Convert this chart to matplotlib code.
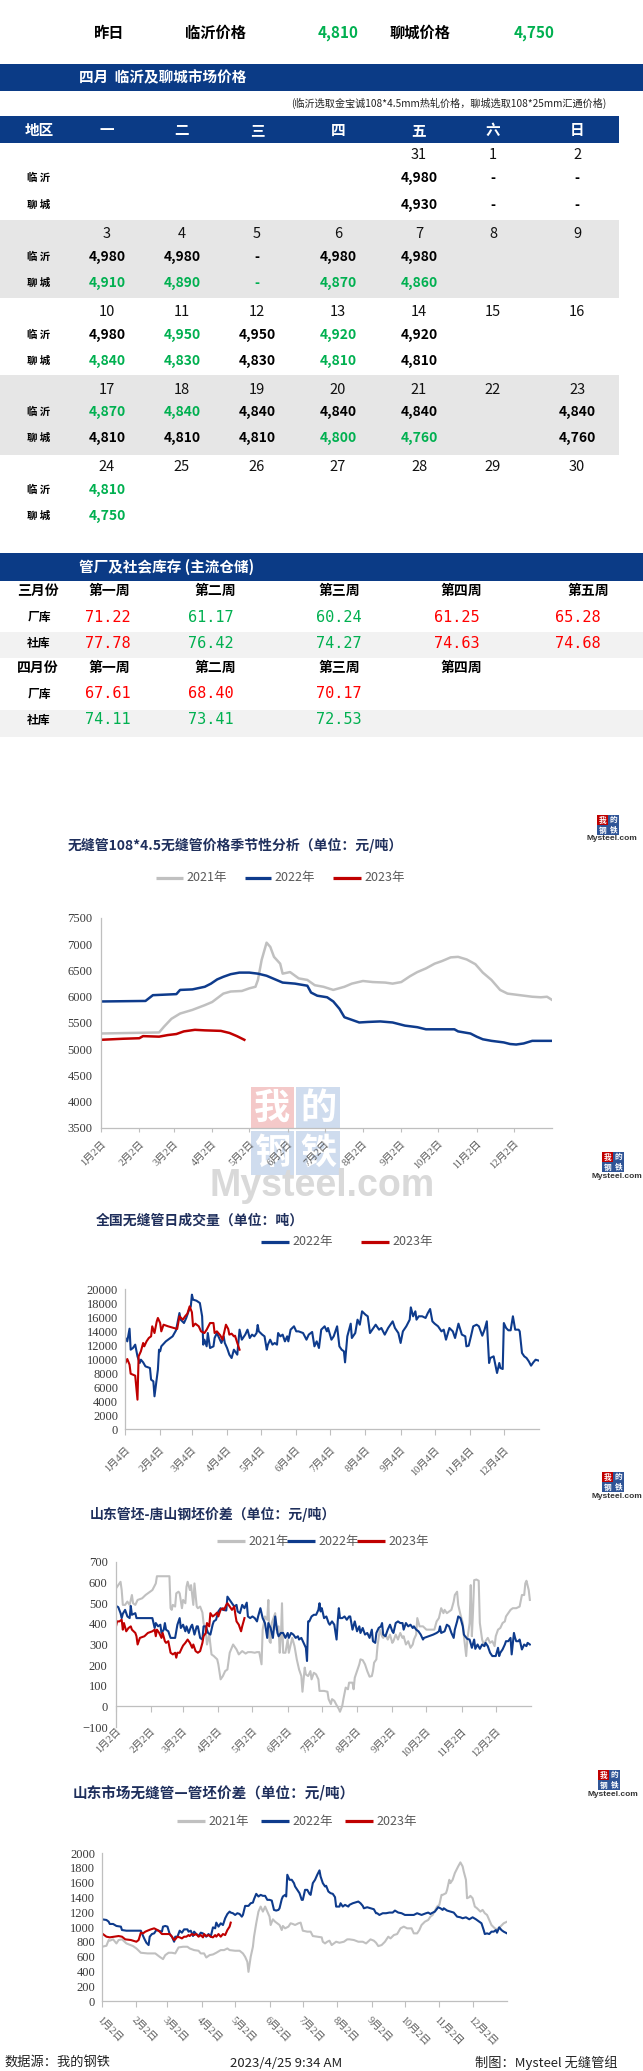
import matplotlib
matplotlib.use('Agg')
import matplotlib.pyplot as plt
from matplotlib.patches import Rectangle
from matplotlib.lines import Line2D

# ---------------- data ----------------
yest_labels = ['临沂价格', '聊城价格']
yest_prices = [4810, 4750]

week_days = ['一', '二', '三', '四', '五', '六', '日']
cal_dates = [
    [None, None, None, None, 31, 1, 2],
    [3, 4, 5, 6, 7, 8, 9],
    [10, 11, 12, 13, 14, 15, 16],
    [17, 18, 19, 20, 21, 22, 23],
    [24, 25, 26, 27, 28, 29, 30]]
linyi_price = [
    [None, None, None, None, 4980, '-', '-'],
    [4980, 4980, '-', 4980, 4980, None, None],
    [4980, 4950, 4950, 4920, 4920, None, None],
    [4870, 4840, 4840, 4840, 4840, None, 4840],
    [4810, None, None, None, None, None, None]]
linyi_down = [
    [0, 0, 0, 0, 0, 0, 0],
    [0, 0, 0, 0, 0, 0, 0],
    [0, 1, 0, 1, 0, 0, 0],
    [1, 1, 0, 0, 0, 0, 0],
    [1, 0, 0, 0, 0, 0, 0]]
liaocheng_price = [
    [None, None, None, None, 4930, '-', '-'],
    [4910, 4890, '-', 4870, 4860, None, None],
    [4840, 4830, 4830, 4810, 4810, None, None],
    [4810, 4810, 4810, 4800, 4760, None, 4760],
    [4750, None, None, None, None, None, None]]
liaocheng_down = [
    [0, 0, 0, 0, 0, 0, 0],
    [1, 1, 1, 1, 1, 0, 0],
    [1, 1, 0, 1, 0, 0, 0],
    [0, 0, 0, 1, 1, 0, 0],
    [1, 0, 0, 0, 0, 0, 0]]

inv_months = ['三月份', '四月份']
inv_weeks = [['第一周', '第二周', '第三周', '第四周', '第五周'],
             ['第一周', '第二周', '第三周', '第四周']]
march_factory = [71.22, 61.17, 60.24, 61.25, 65.28]
march_factory_up = [1, 0, 0, 1, 1]
march_social = [77.78, 76.42, 74.27, 74.63, 74.68]
march_social_up = [1, 0, 0, 1, 1]
april_factory = [67.61, 68.40, 70.17]
april_factory_up = [1, 1, 1]
april_social = [74.11, 73.41, 72.53]
april_social_up = [0, 0, 0]

month_ticks = [0, 31, 59, 90, 120, 151, 181, 212, 243, 273, 304, 334]
labels_2 = ['%d月2日' % m for m in range(1, 13)]
labels_4 = ['%d月4日' % m for m in range(1, 13)]

# chart 1: seamless pipe 108*4.5 price (yuan/t), x = day of year
p21_d = [0, 47, 51, 57, 64, 74, 84, 90, 99, 105, 114, 120, 125, 127, 130, 134, 137, 140, 145, 147,
         153, 160, 167, 173, 180, 188, 197, 203, 212, 220, 230, 236, 243, 250, 256, 263, 270, 276, 283, 289,
         296, 303, 309, 316, 323, 329, 339, 349, 356, 361, 365]
p21_v = [5300, 5320, 5430, 5580, 5680, 5750, 5840, 5900, 6060, 6100, 6110, 6160, 6190, 6320, 6700, 7030, 6950, 6760, 6630, 6440,
         6470, 6350, 6320, 6220, 6190, 6130, 6190, 6250, 6300, 6280, 6270, 6250, 6280, 6390, 6470, 6540, 6630, 6680, 6750, 6760,
         6710, 6620, 6460, 6320, 6130, 6060, 6030, 6000, 5990, 6000, 5940]
p22_d = [0, 36, 42, 61, 64, 74, 84, 89, 94, 99, 105, 112, 120, 127, 134, 140, 147, 157, 167, 170,
         175, 183, 188, 193, 197, 203, 209, 216, 226, 236, 246, 256, 263, 273, 286, 289, 299, 304, 309, 316,
         326, 331, 336, 342, 349, 365]
p22_v = [5910, 5920, 6030, 6050, 6130, 6140, 6190, 6250, 6330, 6380, 6430, 6460, 6460, 6440, 6400, 6340, 6270, 6250, 6210, 6080,
         6020, 5990, 5910, 5770, 5610, 5560, 5510, 5520, 5530, 5510, 5450, 5420, 5380, 5380, 5380, 5340, 5300, 5240, 5190, 5160,
         5130, 5100, 5090, 5110, 5160, 5160]
p23_d = [0, 18, 31, 34, 47, 54, 61, 67, 76, 84, 97, 104, 110, 116]
p23_v = [5180, 5200, 5210, 5250, 5240, 5270, 5290, 5340, 5370, 5360, 5350, 5310, 5250, 5180]

# chart 2: national daily deal volume (t)
v22_d = [0, 2, 4, 5, 7, 9, 11, 13, 14, 16, 18, 22, 23, 25, 26, 29, 30, 31, 32, 36,
         42, 45, 48, 49, 52, 54, 56, 58, 59, 60, 63, 66, 68, 69, 70, 72, 73, 75, 78, 79,
         81, 83, 85, 87, 88, 90, 92, 94, 96, 97, 99, 101, 103, 105, 106, 108, 110, 112, 114, 116,
         117, 118, 121, 123, 125, 126, 128, 130, 132, 134, 135, 137, 139, 141, 143, 144, 146, 149, 151, 153,
         157, 160, 162, 165, 167, 169, 171, 173, 176, 178, 179, 182, 184, 187, 189, 191, 193, 194, 196, 199,
         200, 203, 205, 207, 209, 212, 214, 216, 218, 221, 224, 226, 229, 232, 236, 238, 241, 243, 245, 248,
         251, 252, 254, 256, 257, 259, 262, 265, 267, 269, 271, 273, 276, 279, 281, 283, 286, 289, 291, 294,
         297, 300, 301, 303, 305, 307, 310, 312, 315, 317, 319, 321, 322, 325, 328, 330, 331, 333, 334, 336,
         338, 340, 342, 344, 347, 348, 350, 352, 354, 356, 358, 360, 362, 365]
v22_v = [13100, 12520, 14330, 11330, 11570, 12050, 10380, 9430, 9900, 9520, 8950, 8710, 7050, 6810, 4670, 8480, 11330, 11100, 11810, 12520,
         13240, 14100, 16570, 15620, 15140, 15860, 16810, 17520, 19190, 18480, 18330, 18000, 16100, 12050, 12760, 11810, 13710, 11570, 11810, 13000,
         13710, 13000, 12290, 13240, 12290, 11570, 10620, 10140, 11330, 11100, 10620, 14190, 12760, 13240, 13480, 14190, 13000, 13480, 13240, 13710,
         14860, 13950, 13480, 13240, 11330, 12050, 12760, 12050, 12290, 12050, 13710, 13240, 13480, 12520, 13240, 12520, 14190, 14670, 13950, 13950,
         13710, 12760, 13480, 13860, 11810, 12520, 11570, 14190, 14670, 13950, 14430, 12760, 13240, 14670, 11810, 11330, 11100, 9520, 13240, 15050,
         13000, 13710, 15620, 14900, 16810, 16330, 16100, 13710, 14190, 14900, 14190, 14430, 13480, 14430, 15380, 14430, 13710, 12290, 13950, 14670,
         15620, 17380, 16100, 16810, 15620, 16100, 16100, 15860, 16570, 17140, 15380, 15050, 14670, 13950, 14190, 12760, 14430, 13950, 13000, 15050,
         13480, 13240, 11810, 11900, 13240, 14670, 14900, 14670, 13330, 14190, 15380, 9430, 10140, 10380, 8000, 9430, 8710, 8570, 15140, 14430,
         14100, 14100, 16100, 14190, 14190, 13950, 10860, 10380, 10140, 9670, 9050, 9520, 9900, 9760]
v23_d = [0, 2, 4, 5, 7, 9, 11, 12, 14, 16, 17, 19, 21, 23, 24, 26, 28, 29, 31, 32,
         34, 38, 46, 48, 51, 53, 55, 57, 59, 60, 62, 65, 67, 70, 72, 75, 78, 79, 81, 84,
         86, 88, 89, 91, 92, 94, 96, 97, 99, 101]
v23_v = [9290, 10000, 9190, 7900, 7760, 7620, 4190, 10380, 11100, 12290, 11810, 12520, 13000, 13240, 14670, 13710, 15380, 15860, 15140, 13950,
         14900, 14670, 14290, 16100, 15620, 16100, 16480, 17520, 16670, 14670, 15050, 14670, 13950, 13710, 14190, 15140, 15140, 13710, 13950, 13380,
         12760, 14190, 14900, 14290, 13480, 13620, 13240, 13330, 12290, 11330]

# chart 3: Shandong tube billet - Tangshan billet spread (yuan/t)
s21_d = [0, 2, 4, 5, 6, 8, 10, 12, 14, 15, 17, 19, 23, 26, 30, 32, 35, 36, 41, 47,
         48, 49, 50, 52, 53, 55, 56, 58, 59, 61, 62, 63, 65, 66, 68, 69, 71, 72, 74, 76,
         77, 79, 80, 82, 84, 86, 89, 90, 92, 94, 96, 98, 100, 103, 106, 108, 111, 114, 116, 119,
         122, 124, 126, 128, 129, 131, 133, 134, 135, 136, 137, 139, 140, 141, 143, 144, 145, 146, 147, 149,
         151, 152, 155, 157, 159, 161, 163, 164, 166, 167, 169, 171, 172, 174, 176, 178, 179, 183, 186, 187,
         189, 190, 192, 194, 196, 197, 199, 200, 202, 204, 205, 208, 209, 210, 212, 214, 215, 217, 219, 221,
         223, 225, 226, 227, 229, 230, 232, 234, 235, 237, 239, 241, 243, 244, 246, 248, 250, 252, 253, 255,
         257, 259, 261, 262, 264, 265, 267, 270, 273, 277, 280, 282, 284, 286, 288, 289, 291, 293, 295, 297,
         298, 300, 301, 303, 305, 306, 308, 309, 311, 312, 313, 314, 315, 317, 319, 320, 322, 324, 325, 327,
         329, 331, 333, 334, 336, 338, 340, 342, 343, 345, 347, 349, 352, 355, 357, 359, 360, 361, 363, 364]
s21_v = [572, 588, 604, 564, 492, 492, 508, 492, 540, 500, 492, 516, 524, 540, 556, 564, 596, 631, 631, 631,
         476, 468, 492, 484, 548, 556, 548, 476, 516, 500, 580, 604, 564, 588, 492, 596, 484, 476, 484, 455,
         404, 364, 300, 348, 252, 244, 228, 204, 131, 147, 171, 179, 260, 300, 276, 252, 268, 256, 263, 263,
         260, 263, 263, 204, 372, 436, 420, 516, 316, 308, 404, 436, 452, 372, 388, 260, 332, 500, 260, 260,
         324, 260, 332, 292, 228, 179, 147, 71, 188, 155, 147, 171, 131, 163, 155, 131, 75, 75, 71, 35,
         11, 35, 27, 6, -13, -26, 3, 35, 91, 83, 115, 115, 83, 139, 171, 204, 228, 224, 204, 171,
         144, 147, 171, 212, 228, 292, 372, 340, 332, 348, 324, 348, 308, 316, 348, 324, 356, 332, 340, 300,
         316, 284, 300, 324, 348, 428, 388, 388, 372, 372, 372, 412, 428, 476, 452, 468, 452, 460, 468, 508,
         540, 556, 492, 444, 404, 340, 244, 324, 404, 588, 340, 460, 612, 615, 609, 404, 324, 292, 316, 332,
         308, 316, 292, 340, 372, 380, 404, 412, 436, 452, 468, 476, 476, 484, 540, 540, 596, 609, 564, 516]
s22_d = [0, 2, 4, 5, 6, 8, 10, 12, 13, 14, 17, 18, 21, 25, 28, 32, 34, 35, 37, 39,
         40, 42, 43, 44, 46, 48, 52, 53, 54, 56, 57, 59, 61, 62, 64, 66, 67, 69, 71, 72,
         74, 76, 77, 79, 81, 83, 85, 86, 88, 90, 92, 94, 97, 98, 100, 102, 104, 106, 107, 109,
         111, 113, 115, 116, 118, 120, 122, 124, 125, 127, 129, 131, 133, 134, 136, 138, 140, 142, 143, 145,
         147, 149, 151, 152, 154, 156, 158, 160, 161, 163, 165, 167, 168, 169, 170, 172, 174, 176, 178, 179,
         180, 181, 183, 185, 187, 188, 190, 192, 194, 195, 196, 197, 199, 201, 203, 205, 206, 208, 210, 212,
         214, 215, 217, 219, 221, 223, 225, 226, 228, 229, 231, 233, 234, 235, 237, 239, 241, 243, 244, 246,
         248, 250, 252, 253, 255, 257, 259, 261, 262, 264, 266, 268, 270, 271, 275, 279, 282, 284, 285, 286,
         289, 291, 293, 295, 297, 298, 300, 301, 303, 305, 306, 307, 309, 311, 313, 315, 316, 318, 320, 322,
         324, 325, 327, 329, 331, 334, 336, 337, 338, 340, 342, 343, 345, 347, 348, 350, 351, 352, 354, 355,
         357, 359, 361, 362, 364]
s22_v = [487, 481, 452, 428, 449, 468, 436, 428, 487, 444, 452, 428, 428, 428, 428, 428, 380, 404, 388, 396,
         356, 372, 404, 372, 364, 332, 332, 364, 396, 428, 380, 396, 364, 388, 356, 388, 396, 348, 388, 388,
         332, 324, 388, 388, 356, 348, 396, 412, 420, 460, 476, 468, 465, 532, 516, 500, 484, 492, 460, 452,
         492, 476, 503, 436, 428, 436, 428, 412, 436, 476, 428, 404, 332, 404, 380, 332, 436, 356, 340, 356,
         356, 332, 356, 332, 356, 348, 332, 340, 324, 332, 308, 284, 220, 412, 412, 436, 444, 444, 468, 500,
         460, 476, 428, 436, 404, 396, 412, 396, 324, 412, 476, 428, 428, 436, 420, 436, 436, 372, 412, 364,
         388, 356, 380, 348, 356, 332, 372, 316, 308, 356, 380, 388, 404, 348, 340, 372, 396, 364, 356, 404,
         412, 404, 404, 372, 404, 388, 396, 380, 388, 372, 364, 348, 324, 332, 340, 348, 356, 364, 388, 356,
         364, 396, 388, 356, 332, 372, 412, 436, 428, 388, 348, 340, 327, 324, 284, 324, 279, 300, 279, 300,
         292, 308, 292, 260, 244, 244, 284, 244, 260, 276, 300, 316, 316, 332, 252, 356, 332, 316, 316, 324,
         276, 300, 292, 308, 300]
s23_d = [0, 1, 3, 5, 6, 7, 9, 11, 13, 14, 17, 18, 19, 21, 25, 28, 32, 34, 35, 36,
         38, 40, 41, 43, 44, 46, 48, 50, 52, 53, 54, 56, 58, 59, 61, 63, 65, 67, 68, 70,
         72, 74, 76, 77, 79, 80, 82, 83, 85, 87, 89, 90, 92, 94, 95, 97, 98, 100, 102, 104,
         105, 106, 108, 110, 111, 113]
s23_v = [388, 412, 412, 420, 372, 404, 364, 380, 388, 372, 356, 340, 300, 332, 340, 356, 364, 372, 340, 372,
         356, 332, 356, 316, 308, 316, 260, 252, 260, 236, 260, 260, 284, 295, 308, 324, 308, 284, 300, 268,
         260, 268, 308, 340, 356, 404, 388, 452, 436, 444, 455, 436, 468, 476, 468, 492, 500, 484, 468, 484,
         444, 412, 396, 364, 388, 428]

# chart 4: Shandong seamless pipe - tube billet spread (yuan/t)
m21_d = [0, 4, 6, 7, 10, 13, 15, 18, 22, 28, 31, 35, 41, 48, 52, 55, 57, 60, 63, 66,
         69, 73, 77, 79, 83, 87, 89, 92, 94, 97, 100, 103, 107, 110, 113, 115, 120, 124, 127, 129,
         131, 132, 134, 136, 137, 139, 141, 143, 145, 147, 149, 151, 152, 154, 156, 158, 160, 162, 163, 165,
         168, 170, 172, 174, 177, 179, 181, 185, 188, 190, 194, 198, 199, 201, 203, 205, 207, 209, 211, 214,
         218, 221, 223, 227, 231, 235, 238, 242, 245, 247, 249, 252, 255, 258, 260, 263, 266, 269, 272, 275,
         279, 281, 284, 286, 288, 291, 294, 296, 298, 302, 304, 306, 307, 310, 311, 313, 314, 316, 318, 321,
         323, 325, 326, 328, 329, 331, 332, 334, 336, 338, 341, 343, 345, 347, 349, 351, 354, 356, 359, 362,
         365]
m21_v = [733, 747, 824, 815, 833, 778, 824, 833, 778, 742, 710, 652, 643, 643, 597, 566, 620, 652, 652, 643,
         724, 733, 733, 710, 688, 679, 643, 643, 588, 620, 629, 652, 688, 688, 710, 688, 679, 679, 643, 597,
         529, 394, 597, 733, 869, 1050, 1208, 1276, 1208, 1276, 1208, 1140, 1027, 1104, 1072, 1050, 1027, 959, 1014, 982,
         1005, 1050, 1041, 1027, 1050, 1059, 950, 937, 937, 878, 869, 860, 801, 778, 801, 815, 756, 778, 801, 787,
         801, 833, 833, 824, 801, 801, 778, 833, 815, 787, 742, 756, 801, 869, 846, 891, 905, 982, 1005, 982,
         982, 914, 914, 959, 1027, 1072, 1095, 1140, 1163, 1276, 1299, 1434, 1434, 1457, 1502, 1638, 1593, 1638, 1729, 1819,
         1873, 1819, 1751, 1638, 1389, 1403, 1421, 1389, 1276, 1253, 1208, 1231, 1186, 1163, 1095, 1027, 982, 968, 1005, 1050,
         1072]
m22_d = [0, 4, 6, 7, 10, 13, 17, 18, 22, 30, 35, 36, 38, 40, 42, 43, 45, 47, 49, 51,
         54, 55, 57, 59, 61, 63, 65, 66, 68, 70, 72, 74, 77, 78, 80, 82, 83, 85, 87, 89,
         91, 92, 94, 96, 98, 100, 102, 103, 105, 107, 109, 111, 113, 115, 116, 118, 120, 122, 124, 126,
         127, 129, 132, 134, 136, 137, 139, 141, 143, 145, 147, 149, 151, 153, 155, 157, 159, 160, 162, 163,
         165, 166, 167, 169, 171, 173, 174, 176, 178, 180, 181, 183, 185, 187, 188, 190, 192, 194, 196, 197,
         199, 201, 202, 204, 206, 208, 210, 211, 214, 215, 217, 219, 222, 223, 226, 228, 231, 233, 235, 236,
         239, 242, 245, 247, 248, 250, 253, 256, 259, 262, 264, 267, 270, 273, 277, 281, 284, 288, 292, 294,
         296, 297, 300, 303, 305, 307, 308, 311, 314, 317, 320, 323, 325, 328, 331, 334, 337, 340, 342, 344,
         345, 347, 349, 351, 353, 355, 356, 358, 360, 362, 365]
m22_v = [1104, 1095, 1072, 1041, 1041, 1014, 1005, 959, 950, 950, 950, 914, 846, 787, 756, 869, 905, 914, 959, 950,
         937, 1005, 1014, 1005, 905, 869, 801, 869, 869, 950, 923, 968, 968, 937, 950, 878, 937, 905, 878, 923,
         914, 891, 869, 905, 869, 995, 982, 1059, 1005, 1050, 1027, 1118, 1176, 1208, 1195, 1186, 1163, 1186, 1176, 1140,
         1163, 1285, 1285, 1321, 1330, 1376, 1448, 1412, 1434, 1421, 1421, 1367, 1367, 1357, 1231, 1222, 1231, 1253, 1376, 1412,
         1434, 1412, 1706, 1638, 1638, 1593, 1548, 1502, 1457, 1367, 1367, 1502, 1502, 1448, 1434, 1593, 1638, 1706, 1765, 1683,
         1593, 1548, 1557, 1480, 1457, 1448, 1403, 1276, 1276, 1321, 1276, 1299, 1276, 1299, 1321, 1330, 1344, 1321, 1285, 1253,
         1267, 1253, 1240, 1186, 1186, 1163, 1186, 1186, 1195, 1195, 1222, 1195, 1186, 1163, 1163, 1163, 1186, 1163, 1186, 1195,
         1176, 1186, 1208, 1267, 1253, 1231, 1253, 1222, 1208, 1195, 1140, 1131, 1118, 1131, 1104, 1131, 1104, 1072, 1050, 959,
         905, 914, 905, 937, 937, 959, 923, 995, 959, 937, 914]
m23_d = [0, 2, 4, 7, 11, 15, 18, 21, 26, 31, 33, 35, 37, 39, 41, 44, 47, 50, 52, 54,
         55, 58, 61, 63, 65, 66, 68, 70, 72, 74, 76, 78, 79, 81, 83, 85, 87, 89, 91, 92,
         94, 96, 98, 100, 102, 103, 105, 107, 109, 111, 113, 115, 116]
m23_v = [914, 891, 869, 860, 869, 878, 869, 833, 824, 801, 824, 923, 914, 937, 950, 968, 982, 959, 937, 905,
         905, 905, 905, 869, 824, 833, 869, 860, 846, 869, 869, 891, 878, 905, 891, 905, 869, 891, 860, 905,
         878, 891, 869, 860, 891, 869, 905, 869, 905, 891, 959, 1005, 1059]

# ---------------- style ----------------
W, H = 643, 2071
plt.rcParams['font.family'] = ['Noto Sans CJK SC', 'DejaVu Sans']
SERIF = ['Liberation Serif', 'Noto Sans CJK SC']
MONO = ['DejaVu Sans Mono']
NAVY = '#0b3b86'
GREEN = '#00b050'
RED = '#ff0000'
BLACK = '#000000'
C21, C22, C23 = '#c0c0c0', '#0e3b8c', '#c00000'
TITLE_C = '#1f2f5c'

fig = plt.figure(figsize=(W / 100, H / 100), dpi=100)


def fx(x):
    return x / W


def fy(y):
    return 1 - y / H


def text(x, y, s, **kw):
    kw.setdefault('ha', 'center')
    kw.setdefault('va', 'center')
    return fig.text(fx(x), fy(y), s, **kw)


def rect(x0, y0, x1, y1, color, z=-5, alpha=1.0):
    fig.add_artist(Rectangle((fx(x0), fy(y1)), (x1 - x0) / W, (y1 - y0) / H,
                             transform=fig.transFigure, facecolor=color,
                             edgecolor='none', zorder=z, alpha=alpha))


def hline(x0, x1, y, color, lw):
    fig.add_artist(Line2D([fx(x0), fx(x1)], [fy(y), fy(y)], transform=fig.transFigure,
                          color=color, lw=lw, solid_capstyle='butt'))


# ---------------- top line ----------------
text(109, 33, '昨日', fontsize=11, fontweight='bold')
text(216, 33, yest_labels[0], fontsize=11, fontweight='bold')
text(338, 33, f'{yest_prices[0]:,}', fontsize=11, fontweight='bold', color=GREEN)
text(420, 33, yest_labels[1], fontsize=11, fontweight='bold')
text(534, 33, f'{yest_prices[1]:,}', fontsize=11, fontweight='bold', color=GREEN)

# ---------------- calendar ----------------
rect(0, 64, 643, 91, NAVY)
text(79, 77.5, '四月  临沂及聊城市场价格', ha='left', fontsize=10.5, fontweight='bold', color='white')
text(606, 103, '(临沂选取金宝诚108*4.5mm热轧价格，聊城选取108*25mm汇通价格)', ha='right',
     fontsize=7.3, color='#222222')
rect(0, 116, 619, 143, NAVY)
col_x = [107, 182, 257, 338, 419, 493, 577]
text(39, 130, '地区', fontsize=10.5, fontweight='bold', color='white')
for cx, wd in zip(col_x, week_days):
    text(cx, 130, wd, fontsize=10.5, fontweight='bold', color='white')

date_y = [155, 234, 312, 390, 467]
linyi_y = [178, 257, 335, 412, 490]
liao_y = [205, 283, 361, 438, 516]
for band in [(220, 298), (375, 455)]:
    rect(0, band[0], 619, band[1], '#e6e6e6')


def fmt(v):
    return v if isinstance(v, str) else f'{v:,}'


for wi in range(len(cal_dates)):
    text(39, linyi_y[wi], '临 沂', fontsize=7.5, fontweight='bold')
    text(39, liao_y[wi], '聊 城', fontsize=7.5, fontweight='bold')
    for ci in range(7):
        d = cal_dates[wi][ci]
        if d is not None:
            text(col_x[ci], date_y[wi], str(d), fontsize=10.5, color='#111111')
        lv = linyi_price[wi][ci]
        if lv is not None:
            text(col_x[ci], linyi_y[wi], fmt(lv), fontsize=10, fontweight='bold',
                 color=GREEN if linyi_down[wi][ci] else BLACK)
        cv = liaocheng_price[wi][ci]
        if cv is not None:
            text(col_x[ci], liao_y[wi], fmt(cv), fontsize=10, fontweight='bold',
                 color=GREEN if liaocheng_down[wi][ci] else BLACK)

# ---------------- inventory ----------------
rect(0, 553, 643, 581, NAVY)
text(79, 567, '管厂及社会库存 (主流仓储)', ha='left', fontsize=10.5, fontweight='bold', color='white')
rect(0, 632, 643, 658, '#f2f2f2')
rect(0, 710, 643, 737, '#f2f2f2')
wk_x = [109, 215, 339, 461, 588]
val_x = [108, 211, 339, 457, 578]
month_y = [591, 668]
fac_y = [617, 694]
soc_y = [643, 720]
fac_vals = [march_factory, april_factory]
fac_up = [march_factory_up, april_factory_up]
soc_vals = [march_social, april_social]
soc_up = [march_social_up, april_social_up]
for mi in range(2):
    text(38, month_y[mi], inv_months[mi], fontsize=10, fontweight='bold')
    for wi, wk in enumerate(inv_weeks[mi]):
        text(wk_x[wi], month_y[mi], wk, fontsize=10, fontweight='bold')
    text(39, fac_y[mi], '厂库', fontsize=8.5, fontweight='bold')
    text(39, soc_y[mi], '社库', fontsize=8.5, fontweight='bold')
    for wi, v in enumerate(fac_vals[mi]):
        text(val_x[wi], fac_y[mi], f'{v:.2f}', fontsize=11, family=MONO,
             color=RED if fac_up[mi][wi] else GREEN)
    for wi, v in enumerate(soc_vals[mi]):
        text(val_x[wi], soc_y[mi], f'{v:.2f}', fontsize=11, family=MONO,
             color=RED if soc_up[mi][wi] else GREEN)

# ---------------- watermark & logos ----------------
rect(251, 1087, 294, 1129, '#f4c9c9', z=-4)
rect(296, 1087, 340, 1129, '#cfdcee', z=-4)
rect(251, 1131, 294, 1175, '#cfdcee', z=-4)
rect(296, 1131, 340, 1175, '#cfdcee', z=-4)
for (cx, cy, ch) in [(272, 1108, '我'), (318, 1108, '的'), (272, 1153, '钢'), (318, 1153, '铁')]:
    t = text(cx, cy, ch, fontsize=26, fontweight='bold', color='white')
    t.set_zorder(-3)
t = text(322, 1186, 'Mysteel.com', fontsize=27, fontweight='bold', color='#d9d9d9',
         family=['Liberation Sans', 'DejaVu Sans'])
t.set_zorder(-3)

logo_pos = [(608, 815), (613, 1152), (613, 1472), (609, 1770)]
for (lx, ly) in logo_pos:
    rect(lx - 11, ly, lx, ly + 10, '#c00000', z=1)
    rect(lx, ly, lx + 11, ly + 10, '#2f5597', z=1)
    rect(lx - 11, ly + 10, lx, ly + 20, '#2f5597', z=1)
    rect(lx, ly + 10, lx + 11, ly + 20, '#2f5597', z=1)
    for (dx, dy, ch) in [(-5.5, 5, '我'), (5.5, 5, '的'), (-5.5, 15, '钢'), (5.5, 15, '铁')]:
        text(lx + dx, ly + dy, ch, fontsize=5.5, color='white', fontweight='bold')
    text(lx + 4, ly + 24, 'Mysteel.com', fontsize=6, fontweight='bold', color='#333333',
         family=['Liberation Sans', 'DejaVu Sans'])


# ---------------- charts ----------------
def make_axes(x0, x1, ytop, ybot):
    ax = fig.add_axes([fx(x0), fy(ybot), (x1 - x0) / W, (ybot - ytop) / H])
    ax.set_facecolor('none')
    for s in ['top', 'right']:
        ax.spines[s].set_visible(False)
    for s in ['left', 'bottom']:
        ax.spines[s].set_color('#bfbfbf')
        ax.spines[s].set_linewidth(0.9)
    ax.set_xlim(0, 365)
    return ax


def style_y(ax, lo, hi, step, pad):
    ax.set_ylim(lo, hi)
    ax.set_yticks(list(range(lo, hi + 1, step)))
    ax.tick_params(axis='y', length=0, pad=pad, labelsize=9, labelcolor='#3a3a3a')
    for lab in ax.get_yticklabels():
        lab.set_fontfamily(SERIF)


def legend(items, y):
    for (x0, x1, c, lab) in items:
        hline(x0, x1, y, c, 2.3)
        text(x1 + 3, y, lab, ha='left', fontsize=9, color='#595959')


# chart 1
text(68, 845, '无缝管108*4.5无缝管价格季节性分析（单位：元/吨）', ha='left', fontsize=10,
     fontweight='bold', color=TITLE_C)
legend([(156, 183, C21, '2021年'), (245, 271, C22, '2022年'), (333, 361, C23, '2023年')], 878)
ax1 = make_axes(101, 552, 918, 1128)
ax1.plot(p21_d, p21_v, color=C21, lw=1.8)
ax1.plot(p22_d, p22_v, color=C22, lw=1.8)
ax1.plot(p23_d, p23_v, color=C23, lw=1.8)
style_y(ax1, 3500, 7500, 500, 6)
ax1.set_xticks(month_ticks)
ax1.set_xticklabels(labels_2, rotation=45, ha='right', rotation_mode='anchor',
                    fontsize=7.5, color='#595959', fontfamily=SERIF)
ax1.tick_params(axis='x', direction='out', length=3, color='#bfbfbf', pad=5)

# chart 2
text(96, 1221, '全国无缝管日成交量（单位：吨）', ha='left', fontsize=10, fontweight='bold', color=TITLE_C)
legend([(261, 289, C22, '2022年'), (361, 389, C23, '2023年')], 1242)
ax2 = make_axes(125, 539, 1289, 1429)
ax2.plot(v22_d, v22_v, color=C22, lw=1.5)
ax2.plot(v23_d, v23_v, color=C23, lw=1.5)
style_y(ax2, 0, 20000, 2000, 5)
ax2.set_xticks(month_ticks)
ax2.set_xticklabels(labels_4, rotation=45, ha='right', rotation_mode='anchor',
                    fontsize=7.5, color='#595959', fontfamily=SERIF)
ax2.tick_params(axis='x', direction='out', length=4, color='#bfbfbf', pad=8)

# chart 3
text(90, 1514, '山东管坯-唐山钢坯价差（单位：元/吨）', ha='left', fontsize=10, fontweight='bold', color=TITLE_C)
legend([(217, 245, C21, '2021年'), (287, 315, C22, '2022年'), (357, 385, C23, '2023年')], 1541)
ax3 = make_axes(116, 531, 1562, 1727)
ax3.plot(s21_d, s21_v, color=C21, lw=1.5)
ax3.plot(s22_d, s22_v, color=C22, lw=1.5)
ax3.plot(s23_d, s23_v, color=C23, lw=1.5)
style_y(ax3, -100, 700, 100, 6)
ax3.spines['bottom'].set_position(('data', 0))
ax3.set_xticks(month_ticks)
ax3.set_xticklabels([])
ax3.tick_params(axis='x', direction='out', length=4, color='#bfbfbf')
for d, lab in zip(month_ticks, labels_2):
    ax3.text(d, -98, lab, rotation=45, ha='right', va='top', rotation_mode='anchor',
             fontsize=7.5, color='#595959', fontfamily=SERIF, clip_on=False)

# chart 4
text(73, 1793, '山东市场无缝管—管坯价差（单位：元/吨）', ha='left', fontsize=10.5, fontweight='bold', color=TITLE_C)
legend([(177, 205, C21, '2021年'), (261, 289, C22, '2022年'), (345, 373, C23, '2023年')], 1821)
ax4 = make_axes(102, 507, 1853, 2001)
ax4.plot(m21_d, m21_v, color=C21, lw=1.5)
ax4.plot(m22_d, m22_v, color=C22, lw=1.5)
ax4.plot(m23_d, m23_v, color=C23, lw=1.5)
style_y(ax4, 0, 2000, 200, 5)
ax4.set_xticks(month_ticks)
ax4.set_xticklabels(labels_2, rotation=-45, ha='left', va='top', rotation_mode='anchor',
                    fontsize=7.5, color='#595959', fontfamily=SERIF)
ax4.tick_params(axis='x', direction='out', length=4, color='#bfbfbf', pad=6)

# footer (kept fully inside the bottom edge)
text(4, 2070, '数据源：我的钢铁', ha='left', va='bottom', fontsize=9.5, color='#222222')
text(230, 2070, '2023/4/25 9:34 AM', ha='left', va='bottom', fontsize=9.5, color='#222222')
text(475, 2070, '制图：Mysteel 无缝管组', ha='left', va='bottom', fontsize=9.5, color='#222222')

fig.savefig('out.png', dpi=100)
